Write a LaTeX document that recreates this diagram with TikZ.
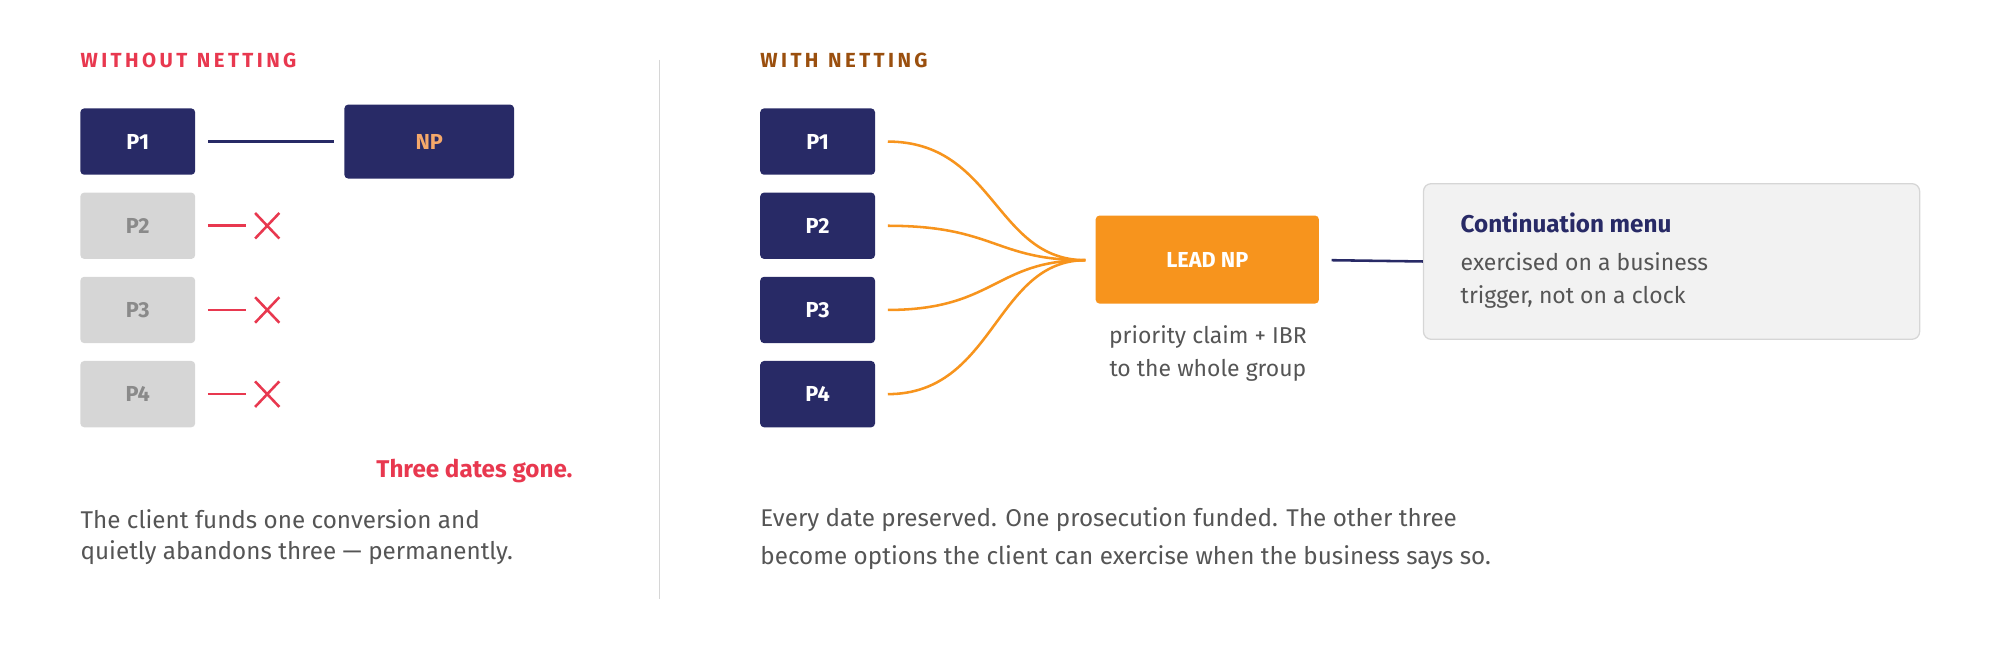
\documentclass[tikz,border=0pt]{standalone}
\usepackage{fontspec}
\usetikzlibrary{calc}
\setmainfont{Fira Sans}
\begin{document}
\begin{tikzpicture}[x=1pt,y=-1pt,
  navybox/.style={fill=navy,rounded corners=3pt,text=white,font=\fontsize{17}{20}\selectfont\bfseries,minimum width=90pt,minimum height=52pt,inner sep=0pt},
  greybox/.style={fill=lgrey,rounded corners=3pt,text=gtext,font=\fontsize{17}{20}\selectfont\bfseries,minimum width=90pt,minimum height=52pt,inner sep=0pt},
  body/.style={text=btext,font=\fontsize{19}{26}\selectfont,anchor=west,inner sep=0pt},
  ttl/.style={font=\fontsize{16}{18}\selectfont\bfseries,anchor=west,inner sep=0pt},
  feed/.style={draw=orng,line width=2pt},
  cross/.style={draw=redc,line width=2pt}]
\definecolor{navy}{HTML}{282A66}
\definecolor{orng}{HTML}{F7941D}
\definecolor{redc}{HTML}{E8384F}
\definecolor{brown}{HTML}{9A4F0E}
\definecolor{lgrey}{HTML}{D6D6D6}
\definecolor{gtext}{HTML}{8A8A8A}
\definecolor{btext}{HTML}{555555}
\definecolor{npo}{HTML}{F5A86A}
\useasboundingbox (0,0) rectangle (1568,508);
% left
\node[ttl,text=redc] (tl) at (63,47) {W\,I\,T\,H\,O\,U\,T\ \ N\,E\,T\,T\,I\,N\,G};
\node[navybox] (lp1) at (108,111) {P1};
\node[navybox,minimum width=133pt,minimum height=58pt,text=npo] (np) at (336.5,111) {NP};
\node[greybox] (lp2) at (108,177) {P2};
\node[greybox] (lp3) at (108,243) {P3};
\node[greybox] (lp4) at (108,309) {P4};
\draw[navy,line width=2pt] ($(lp1.east)+(10,0)$) -- ($(np.west)+(-8,0)$);
\foreach \y/\n in {177/x2,243/x3,309/x4}{
  \coordinate (\n a) at (163,\y); \coordinate (\n b) at (193,\y);
  \draw[cross] (\n a) -- (\n b);
  \draw[cross] (200,\y-10) -- (219,\y+10) (200,\y+10) -- (219,\y-10);
}
\node[text=redc,font=\fontsize{19}{22}\selectfont\bfseries,anchor=east,inner sep=0pt] (gone) at (449,369) {Three dates gone.};
\node[body] (lb1) at (63,407) {The client funds one conversion and};
\node[body] (lb2) at (63,433) {quietly abandons three — permanently.};
\draw[lgrey,line width=1pt] (517,47) -- (517,470);
% right
\node[ttl,text=brown] (tr) at (596,47) {W\,I\,T\,H\ \ N\,E\,T\,T\,I\,N\,G};
\node[navybox] (rp1) at (641,111) {P1};
\node[navybox] (rp2) at (641,177) {P2};
\node[navybox] (rp3) at (641,243) {P3};
\node[navybox] (rp4) at (641,309) {P4};
\node[fill=orng,rounded corners=3pt,text=white,font=\fontsize{17}{20}\selectfont\bfseries,minimum width=175pt,minimum height=69pt,inner sep=0pt] (lead) at (946.5,203.5) {LEAD NP};
\coordinate (hub) at (851,204);
\foreach \p/\y in {rp1/111,rp2/177,rp3/243,rp4/309}{
  \draw[feed] (696,\y) .. controls (780,\y) and (780,204) .. (hub);
}
\node[text=btext,font=\fontsize{18}{26}\selectfont,align=center,inner sep=0pt] (cap) at (947,277) {priority claim + IBR\\to the whole group};
\node[draw=lgrey,fill=black!5,line width=1pt,rounded corners=6pt,minimum width=389pt,minimum height=122pt,inner sep=0pt] (menu) at (1310.5,205) {};
\draw[navy,line width=2pt] (1044,204) -- (menu.west);
\node[text=navy,font=\fontsize{19}{22}\selectfont\bfseries,anchor=west,inner sep=0pt] (mt) at (1145,175) {Continuation menu};
\node[text=btext,font=\fontsize{18}{26}\selectfont,align=left,anchor=north west,inner sep=0pt] (mb) at (1145,198) {exercised on a business\\trigger, not on a clock};
\node[body] (rb1) at (596,407) {Every date preserved. One prosecution funded. The other three};
\node[body] (rb2) at (596,437) {become options the client can exercise when the business says so.};
\end{tikzpicture}
\end{document}
